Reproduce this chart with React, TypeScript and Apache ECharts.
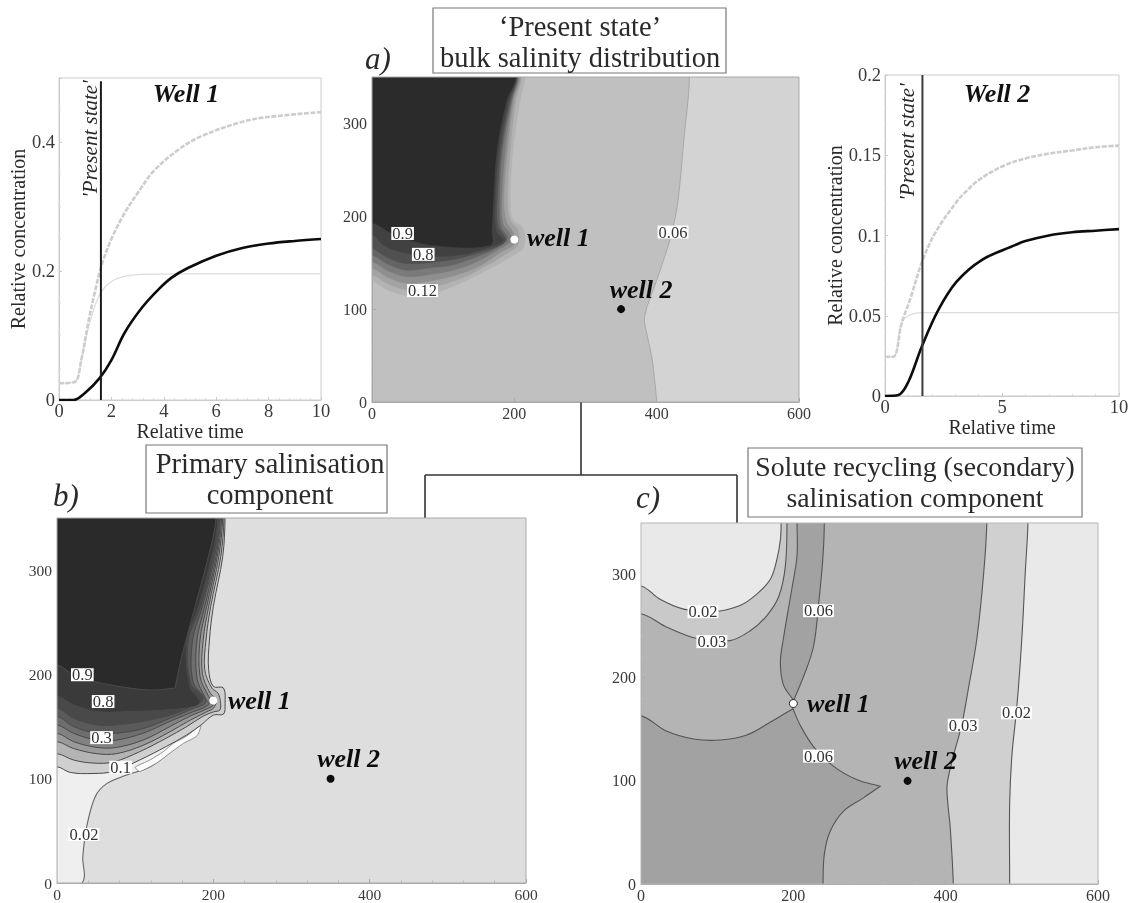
import React, { useEffect, useRef } from "react";
import * as echarts from "echarts";

type P = number[];

// ---- time series (relative time, relative concentration) ----
const well1Black: P[] = [[0,0],[0.55,0],[0.98,0.0105],[1.55,0.034],[2,0.062],[2.5,0.104],[3.14,0.142],[3.78,0.171],[4.3,0.19],[4.92,0.205],[6,0.224],[7,0.236],[8,0.243],[9,0.247],[10,0.25]];
const well1Dashed: P[] = [[0,0.026],[0.6,0.028],[0.85,0.062],[1.11,0.119],[1.36,0.166],[1.61,0.207],[2,0.25],[2.5,0.29],[3.08,0.326],[3.6,0.355],[4.5,0.387],[5.4,0.409],[6.9,0.431],[7.9,0.439],[10,0.447]];
const well1Thin: P[] = [[0,0.026],[0.6,0.028],[0.85,0.062],[1.11,0.11],[1.36,0.145],[1.61,0.168],[2,0.184],[2.5,0.192],[3.1,0.195],[4.9,0.196],[10,0.196]];
const well2Black: P[] = [[0,0],[0.57,0.0006],[1,0.0089],[1.57,0.0307],[2.28,0.0536],[3.06,0.0712],[4.13,0.0847],[5.56,0.094],[6,0.0965],[7,0.1],[8,0.102],[9,0.103],[10,0.104]];
const well2Dashed: P[] = [[0,0.0245],[0.36,0.0245],[0.71,0.0453],[1.07,0.06],[1.57,0.083],[2.14,0.1015],[3.06,0.121],[3.5,0.128],[4,0.1345],[5,0.143],[6,0.148],[7,0.151],[8,0.153],[9,0.155],[10,0.156]];
const well2Thin: P[] = [[0,0.0245],[0.36,0.0245],[0.71,0.0453],[1,0.05],[1.57,0.052],[10,0.052]];
const presentState1: P[] = [[1.6,0],[1.6,0.495]];
const presentState2: P[] = [[1.6,0],[1.6,0.2]];

// ---- panel a contours (x, y in model units) ----
const aContour06: P[] = [[446,350],[444,325],[439,289],[430,217],[421,181.5],[411,156],[400,131],[383,92],[386,74],[393,49],[397,24],[400,0]];
const aPlume: P[][] = [
  [[0,130],[21,121],[49,115],[86,117],[124,128],[156,140],[194,156],[213,167],[212,187],[198,196],[194,217],[198,271],[208,325],[215,350]],
  [[0,137],[21,128],[49,121],[86,124],[124,133],[154,144],[189,160],[205,169],[205,185],[194,196],[190,217],[194,271],[202,325],[210,350]],
  [[0,144],[21,135],[49,128],[86,131],[119,137],[152,147],[182,162],[201,171],[198,183],[189,194],[185,217],[190,271],[199,325],[208,350]],
  [[0,151],[21,142],[49,135],[86,138],[114,142],[147,151],[177,164],[195,173],[194,181],[184,192],[182,217],[187,271],[197,325],[206,350]],
  [[0,158],[21,149],[49,142],[86,145],[110,147],[142,155],[173,165],[190,176],[181,189],[179,217],[183,271],[196,325],[205,350]],
  [[0,165],[21,156],[49,149],[110,153],[138,158],[168,165],[188,174],[177,189],[176,217],[181,271],[194,325],[204,350]],
  [[0,180],[16,169],[39,162],[86,157],[128,159],[166,167],[184,174],[174,185],[173,217],[178,271],[192,325],[203,350]],
  [[0,193],[30,181],[86,169],[166,169],[168,185],[170,217],[175,271],[189,325],[202,350]],
];
const aPlumeFill = ["#b3b3b3","#a3a3a3","#8f8f8f","#7a7a7a","#646464","#505050","#414141","#2b2b2b"];

// ---- panel b contours ----
const bContour02: P[] = [[32,0],[33,25],[38,54],[49,83],[64,95.5],[89,103.5],[115,110],[132,118],[149,129],[166,140],[183,150],[183,200]];
const bSliver: P[] = [[100,111],[119,118],[136,126],[149,134],[166,141],[184,151],[179,141],[162,134],[149,127],[140,122],[127.5,115],[106,107]];
const bPlume: P[][] = [
  [[0,111.5],[17,106],[46,105],[72,107],[106,118],[140,131],[166,142],[185,152],[200,161],[213,162],[215,172],[213,187],[200,188.5],[194,204.5],[195,233],[200,265],[212,313],[215,350]],
  [[0,124],[21,118],[46,115],[72,116],[106,126],[140,139],[166,150],[187,160],[200,164],[208.5,166],[209,174],[206,182],[198,187],[189,204.5],[190.6,233],[196.6,265],[209.5,313],[213.6,350]],
  [[0,135.6],[21,129],[51,124],[76,124],[110,132],[144.5,145],[170,156],[191,164],[200,167.6],[204,175.6],[196,182],[186,201],[187,233],[194,265],[207,313],[212,350]],
  [[0,143.6],[21,135.6],[51,130],[76,130],[110,137],[144.5,150],[170,160],[194,167.6],[200,171],[194,179],[183,198],[183,233],[191.5,265],[205,313],[210.6,350]],
  [[0,151.6],[21,143.6],[51,137],[76,137],[110,143.6],[144.5,155],[170,163],[194,171],[190,177],[179,196.5],[179,233],[189,265],[203.5,313],[209,350]],
  [[0,159.6],[21,150],[51,143.6],[76,143.6],[110,148],[144.5,158],[170,166],[190.6,174],[174,193],[173.5,233],[186,265],[201.7,313],[208.5,350]],
  [[0,167.6],[21,158],[51,151.6],[76,151.6],[110,155],[144.5,161],[172,169],[187,177],[171,191.6],[168,233],[183.8,265],[200,313],[207,350]],
  [[0,179],[21,171],[51,164.4],[93,164.4],[140,166],[174,169],[183,174],[170,188.5],[166,233],[181,265],[198,313],[206,350]],
  [[0,209],[25,198],[68,190],[119,185],[151,187],[151,187],[159.5,217],[176.5,265],[193.6,313],[203.4,350]],
];
const bPlumeFill = ["#cfcfcf","#b4b4b4","#9a9a9a","#828282","#6e6e6e","#5a5a5a","#494949","#3a3a3a","#2a2a2a"];

// ---- panel c contours ----
const cContour03Right: P[] = [[454,350],[450,302],[441,238],[430,190],[421,154],[410.5,125],[402,96.5],[403,77],[406,54.6],[410,0]];
const cContour02Right: P[] = [[508,350],[504.5,302],[500,238],[493.6,173],[487,125],[484,77],[484,0]];
const cContour03Top: P[] = [[0,262],[34,249],[73.5,238],[117,236],[143.5,245.6],[165,260],[181,279],[189.5,308],[191.7,350]];
const cContour02Top: P[] = [[0,289],[25,276],[56,266.5],[95,264],[130,270],[152,281],[170,295.7],[178.5,315],[183,334],[184,350]];
const cContour06Lower: P[] = [[0,163],[34,148],[69,140.6],[104,139.6],[139,144.5],[170,157],[199.5,170],[199.5,170],[209,154],[226.7,133],[253,114],[283.6,101],[314,94.7],[314,94.7],[292,83.5],[266,70.7],[248.5,51.4],[240.7,29],[239,0]];
const cContour06Upper: P[] = [[204.8,350],[204.8,318],[198,286],[187,238],[183,215],[187,193],[200.4,178],[200.4,178],[215.7,205.5],[226.7,231],[233,270],[239,318],[240.7,350]];

// ---- contour labels and wells ----
const aLabels = [[43,181.5,"0.9"],[72,159,"0.8"],[71,120,"0.12"],[423,183,"0.06"]];
const bLabels = [[32.4,199.7,"0.9"],[59,174,"0.8"],[57,139.4,"0.3"],[81.4,111,"0.1"],[34.5,46.5,"0.02"]];
const cLabels = [[81.4,264,"0.02"],[93,235,"0.03"],[233,265,"0.06"],[233,124,"0.06"],[423,154,"0.03"],[493,166,"0.02"]];
const well1Pos = [200, 175];
const well2Pos = [350, 100];

const SERIF = '"Liberation Serif", "DejaVu Serif", serif';
const INK = "#2a2a2a";

// closes a contour that starts on the left edge and ends on the top edge
const toTopLeft = (c: P[]) => [...c, [c[c.length - 1][0], 420], [-50, 420], [-50, c[0][1]]];
// closes a contour running from top to bottom of the plot, to the right
const toRight = (c: P[]) => [...c, [c[c.length - 1][0], -50], [700, -50], [700, 420], [c[0][0], 420]];

type Region = { pts: P[]; fill: string; stroke?: string; w?: number; smooth?: number };

function contourSeries(i: number, regions: Region[], frame: string) {
  const all: Region[] = [...regions, { pts: [[0,0],[600,0],[600,350],[0,350]], fill: "none", stroke: frame, w: 1, smooth: 0 }];
  return {
    type: "custom",
    xAxisIndex: i,
    yAxisIndex: i,
    coordinateSystem: "cartesian2d",
    clip: false,
    silent: true,
    data: all.map(() => [0, 0]),
    encode: { x: 0, y: 1 },
    renderItem: (params: any, api: any) => {
      const r = all[params.dataIndex];
      const tl = api.coord([0, 350]);
      const br = api.coord([600, 0]);
      const clip = { x: tl[0], y: tl[1], width: br[0] - tl[0], height: br[1] - tl[1] };
      const poly = {
        type: "polygon",
        shape: { points: r.pts.map((p) => api.coord(p)), smooth: r.smooth === undefined ? 0.35 : r.smooth },
        style: { fill: r.fill, stroke: r.stroke || "none", lineWidth: r.w || 1 },
      };
      if (r.fill === "none") return poly;
      return { type: "group", children: [poly], clipPath: { type: "rect", shape: clip } };
    },
  };
}

function labelSeries(i: number, labels: any[]) {
  return {
    type: "scatter",
    xAxisIndex: i,
    yAxisIndex: i,
    symbolSize: 0,
    silent: true,
    z: 5,
    itemStyle: { opacity: 1 },
    data: labels.map((l) => ({ value: [l[0], l[1]], name: l[2] })),
    label: {
      show: true,
      position: "inside",
      formatter: "{b}",
      fontFamily: SERIF,
      fontSize: 16.5,
      lineHeight: 13,
      color: "#333",
      backgroundColor: "#fff",
      padding: [0, 1, 0, 1],
    },
  };
}

function wellSeries(i: number, w1Fill: string, w1Stroke: string, off1: number[], off2: number[]) {
  const lab = { fontFamily: SERIF, fontStyle: "italic", fontWeight: "bold", fontSize: 26, color: "#0c0c0c", show: true, position: "inside" };
  return {
    type: "scatter",
    xAxisIndex: i,
    yAxisIndex: i,
    silent: true,
    z: 6,
    itemStyle: { opacity: 1 },
    data: [
      { value: well1Pos, name: "well 1", symbolSize: 8, itemStyle: { opacity: 1, color: w1Fill, borderColor: w1Stroke, borderWidth: w1Stroke === "none" ? 0 : 1 }, label: { ...lab, offset: off1, formatter: "{b}" } },
      { value: well2Pos, name: "well 2", symbolSize: 8, itemStyle: { opacity: 1, color: "#0c0c0c" }, label: { ...lab, offset: off2, formatter: "{b}" } },
    ],
  };
}

function mapAxes(i: number, fontSize: number) {
  const tick = { show: true, inside: true, length: 4, lineStyle: { color: "#aaa", width: 1 } };
  const minor = (n: number) => ({ show: true, splitNumber: n, length: 2.5, lineStyle: { color: "#bbb", width: 1 } });
  const label = { fontFamily: SERIF, fontSize, color: "#3a3a3a" };
  return {
    x: { gridIndex: i, type: "value", min: 0, max: 600, interval: 200, splitLine: { show: false }, axisLine: { show: true, onZero: false, lineStyle: { color: "#aaa" } }, axisTick: tick, minorTick: minor(5), axisLabel: { ...label, margin: 3 } },
    y: { gridIndex: i, type: "value", min: 0, max: 350, interval: 100, splitLine: { show: false }, axisLine: { show: true, onZero: false, lineStyle: { color: "#aaa" } }, axisTick: tick, minorTick: minor(5), axisLabel: { ...label, margin: 5, showMaxLabel: false } },
  };
}

function lineAxes(i: number, xInt: number, yMax: number, yInt: number, minorN: number, hideMax: boolean) {
  const tick = { show: true, inside: true, length: 3, lineStyle: { color: "#ccc" } };
  const minor = { show: true, splitNumber: minorN, length: 2, lineStyle: { color: "#ddd" } };
  const label = { fontFamily: SERIF, fontSize: 18.5, color: "#3a3a3a" };
  const nameStyle = { fontFamily: SERIF, fontSize: 20, color: "#2a2a2a" };
  return {
    x: { gridIndex: i, type: "value", min: 0, max: 10, interval: xInt, name: "Relative time", nameLocation: "middle", nameGap: 6, nameTextStyle: nameStyle, splitLine: { show: false }, axisLine: { show: true, onZero: false, lineStyle: { color: "#ccc" } }, axisTick: tick, minorTick: minor, axisLabel: { ...label, margin: 1 } },
    y: { gridIndex: i, type: "value", min: 0, max: yMax, interval: yInt, name: "Relative concentration", nameLocation: "middle", nameGap: i === 0 ? 26 : 38, nameTextStyle: nameStyle, splitLine: { show: false }, axisLine: { show: true, onZero: false, lineStyle: { color: "#ccc" } }, axisTick: tick, minorTick: { ...minor, splitNumber: i === 0 ? 4 : 5 }, axisLabel: { ...label, margin: 4, showMaxLabel: !hideMax } },
  };
}

function lineSeries(i: number, data: P[], color: string, width: number, dash?: number[]) {
  return {
    type: "line", xAxisIndex: i, yAxisIndex: i, data, smooth: 0.35, showSymbol: false, silent: true,
    lineStyle: { color, width, type: dash || "solid" },
  };
}

function text(t: string, x: number, y: number, font: string, extra: any = {}) {
  return {
    type: "text", x, y, z: 20, silent: true, rotation: extra.rotation || 0,
    style: { text: t, font, fill: extra.fill || INK, textAlign: extra.align || "center", textVerticalAlign: "middle" },
  };
}
function box(x: number, y: number, width: number, height: number) {
  return { type: "rect", z: 15, silent: true, shape: { x, y, width, height }, style: { fill: "#fff", stroke: "#777", lineWidth: 1.2 } };
}
function conn(x1: number, y1: number, x2: number, y2: number) {
  return { type: "line", z: 1, silent: true, shape: { x1, y1, x2, y2 }, style: { stroke: "#333", lineWidth: 1.6 } };
}

export default function App() {
  const ref = useRef<HTMLDivElement>(null);
  useEffect(() => {
    const chart = echarts.init(ref.current!, undefined, { renderer: "svg" });
    const la = lineAxes(0, 2, 0.5, 0.2, 5, true);
    const lb = lineAxes(1, 5, 0.2, 0.05, 5, false);
    const ma = mapAxes(2, 16);
    const mb = mapAxes(3, 15.5);
    const mc = mapAxes(4, 16);
    const titleFont = `28.5px ${SERIF}`;
    const titleFontC = `27.8px ${SERIF}`;
    const letterFont = `italic 31px ${SERIF}`;
    const stateFont = `italic 21px ${SERIF}`;
    const wellFont = `italic bold 26px ${SERIF}`;
    chart.setOption({
      animation: false,
      backgroundColor: "#fff",
      grid: [
        { left: 59, top: 78, width: 262, height: 322, show: true, borderColor: "#ccc", borderWidth: 1, backgroundColor: "#fff" },
        { left: 885, top: 75, width: 234, height: 321, show: true, borderColor: "#ccc", borderWidth: 1, backgroundColor: "#fff" },
        { left: 372, top: 77, width: 427, height: 325, show: true, borderWidth: 0, backgroundColor: "#c0c0c0" },
        { left: 57, top: 518, width: 469, height: 365, show: true, borderWidth: 0, backgroundColor: "#dedede" },
        { left: 641, top: 523, width: 457, height: 364, show: true, borderWidth: 0, backgroundColor: "#b4b4b4" },
      ],
      xAxis: [la.x, lb.x, ma.x, mb.x, mc.x],
      yAxis: [la.y, lb.y, ma.y, mb.y, mc.y],
      series: [
        lineSeries(0, well1Thin, "#dcdcdc", 1.2),
        lineSeries(0, well1Dashed, "#cdcdcd", 2.6, [5, 1.5]),
        lineSeries(0, well1Black, "#0c0c0c", 2.6),
        lineSeries(0, presentState1, "#1c1c1c", 2),
        lineSeries(1, well2Thin, "#dcdcdc", 1.2),
        lineSeries(1, well2Dashed, "#cdcdcd", 2.6, [5, 1.5]),
        lineSeries(1, well2Black, "#0c0c0c", 2.6),
        lineSeries(1, presentState2, "#3a3a3a", 2),
        contourSeries(2, [
          { pts: toRight(aContour06), fill: "#d3d3d3", stroke: "#a8a8a8", w: 1 },
          ...aPlume.map((c, k) => ({ pts: toTopLeft(c), fill: aPlumeFill[k], stroke: aPlumeFill[k], w: 0.6 })),
        ], "#a8a8a8"),
        labelSeries(2, aLabels),
        wellSeries(2, "#fff", "none", [44, -2], [20, -20]),
        contourSeries(3, [
          { pts: [[-50, -50], ...bContour02, [-50, 200]], fill: "#efefef", stroke: "#666", w: 1.1 },
          { pts: bSliver, fill: "#fbfbfb", stroke: "#777", w: 0.8, smooth: 0.2 },
          ...bPlume.map((c, k) => ({ pts: toTopLeft(c), fill: bPlumeFill[k], stroke: "#4a4a4a", w: 1 })),
        ], "#aaaaaa"),
        labelSeries(3, bLabels),
        wellSeries(3, "#fff", "none", [46, 0], [18, -20]),
        contourSeries(4, [
          { pts: toRight(cContour03Right), fill: "#d0d0d0", stroke: "#555", w: 1.1 },
          { pts: toRight(cContour02Right), fill: "#e9e9e9", stroke: "#555", w: 1.1 },
          { pts: toTopLeft(cContour03Top), fill: "#c9c9c9", stroke: "#555", w: 1.1 },
          { pts: toTopLeft(cContour02Top), fill: "#e9e9e9", stroke: "#555", w: 1.1 },
          { pts: [[-50, -50], [-50, 163], ...cContour06Lower, [239, -50]], fill: "#a2a2a2", stroke: "#555", w: 1.1 },
          { pts: [[204.8, 420], ...cContour06Upper, [240.7, 420]], fill: "#a2a2a2", stroke: "#555", w: 1.1 },
        ], "#b5b5b5"),
        labelSeries(4, cLabels),
        wellSeries(4, "#fff", "#222", [45, 0], [18, -20]),
      ],
      graphic: [
        conn(581, 402, 581, 475),
        conn(425, 475, 737, 475),
        conn(425, 475, 425, 518),
        conn(737, 475, 737, 523),
        box(433, 8, 293, 65),
        box(146, 445, 241, 68),
        box(748, 448, 334, 69),
        text("\u2018Present state\u2019", 580, 26, titleFont),
        text("bulk salinity distribution", 580, 57, titleFont),
        text("Primary salinisation", 270, 463, titleFont),
        text("component", 270, 494, titleFont),
        text("Solute recycling (secondary)", 915, 466, titleFontC),
        text("salinisation component", 915, 497, titleFontC),
        text("a)", 378, 58, letterFont),
        text("b)", 66, 495, letterFont),
        text("c)", 648, 497, letterFont),
        text("'Present state'", 90, 139, stateFont, { rotation: Math.PI / 2 }),
        text("'Present state'", 907, 142, stateFont, { rotation: Math.PI / 2 }),
        text("Well 1", 186, 93, wellFont, { fill: "#111" }),
        text("Well 2", 997, 93, wellFont, { fill: "#111" }),
      ],
    });
    return () => chart.dispose();
  }, []);
  return (
    <div
      ref={ref}
      style={{ position: "absolute", left: 0, top: 0, width: 1136, height: 903, background: "#fff", filter: "blur(0.5px)" }}
    />
  );
}
